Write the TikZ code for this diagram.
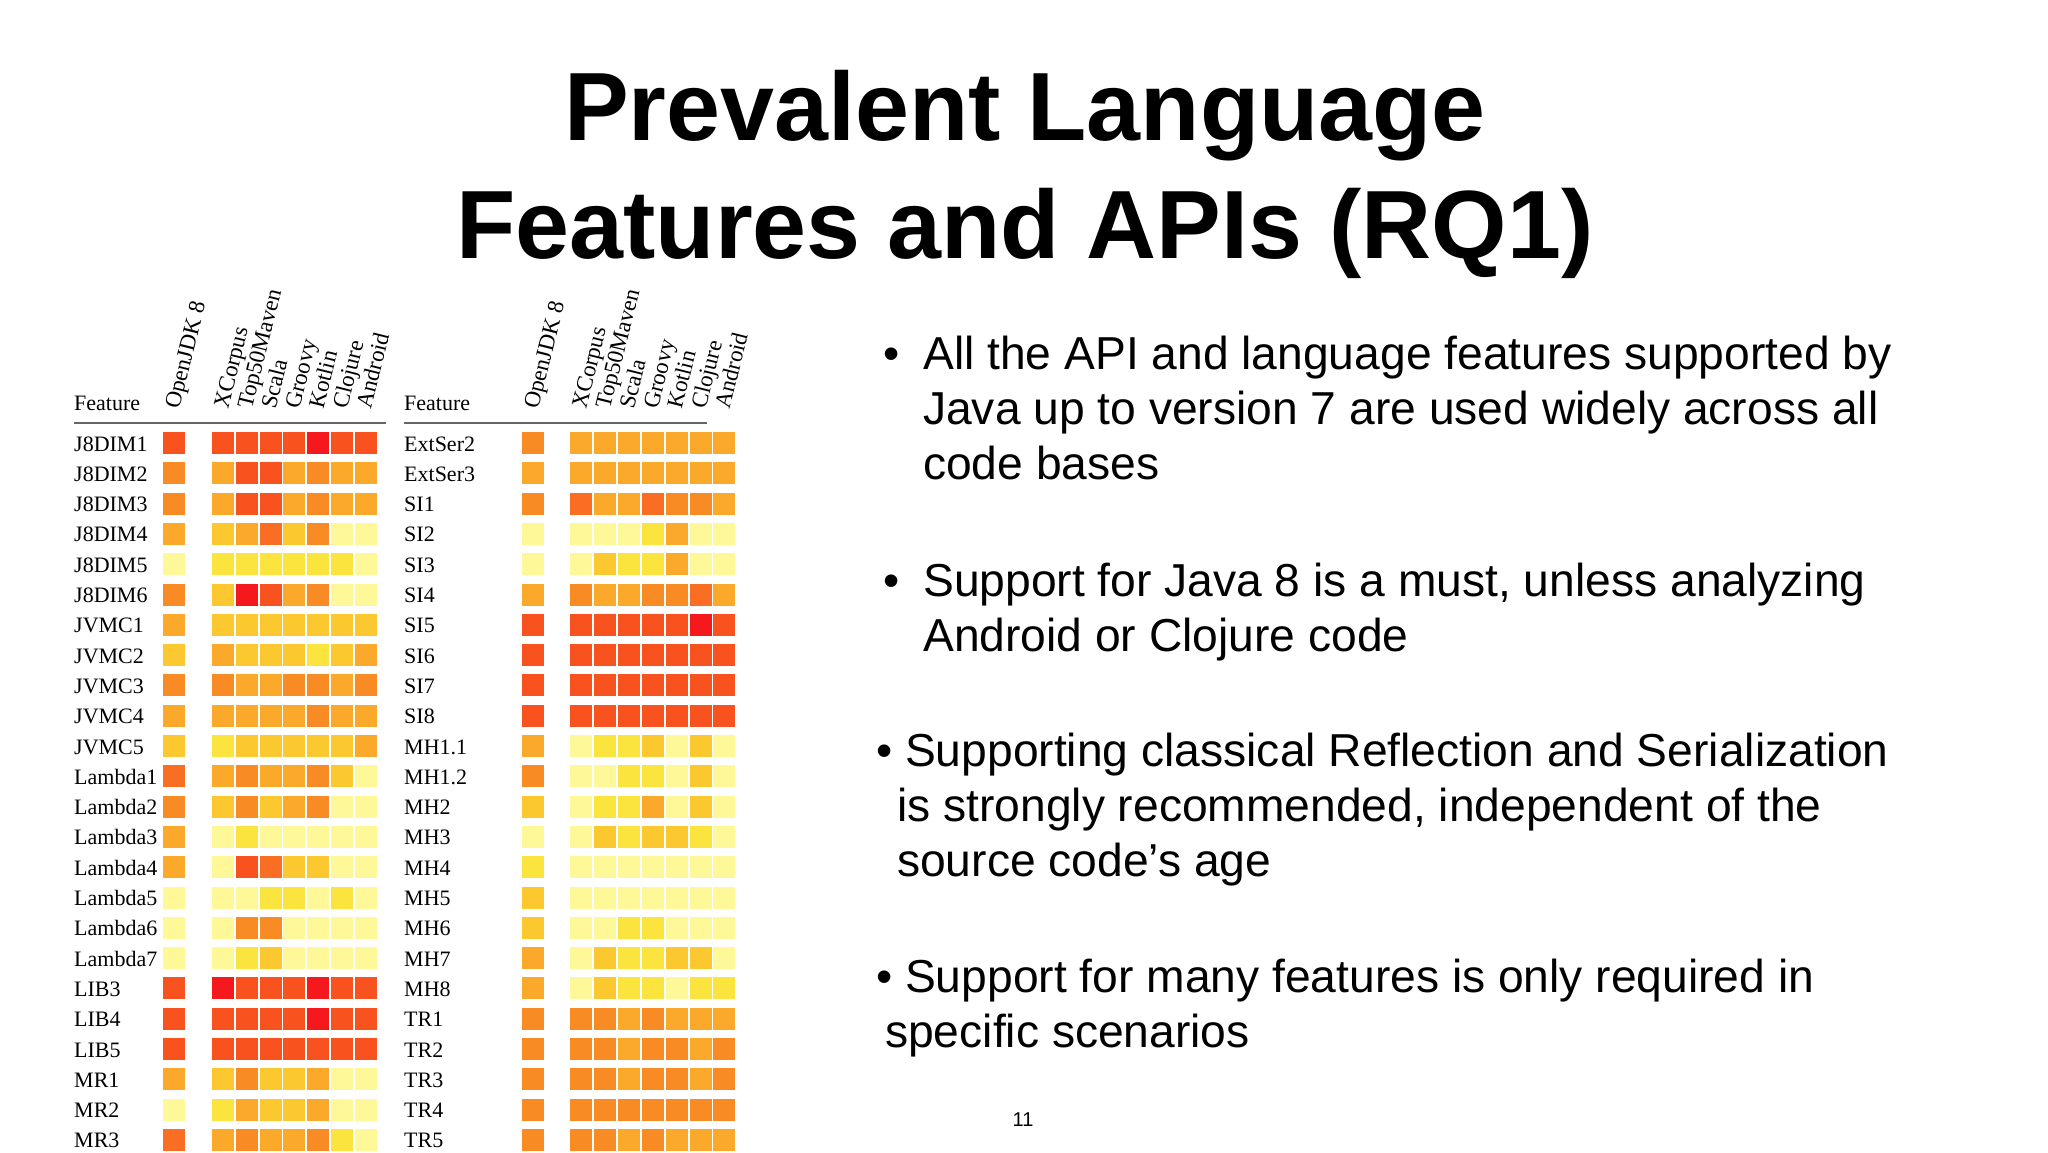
\documentclass[tikz,border=0pt]{standalone}
\usepackage{fontspec}
\setmainfont{Liberation Serif}
\newfontfamily\titlefont{Liberation Sans}
\definecolor{cR}{HTML}{F5181C}
\definecolor{cD}{HTML}{F8521F}
\definecolor{cM}{HTML}{F96E22}
\definecolor{cO}{HTML}{F98B25}
\definecolor{cA}{HTML}{FBA92A}
\definecolor{cG}{HTML}{FCC830}
\definecolor{cY}{HTML}{FCE43E}
\definecolor{cP}{HTML}{FEF898}
\tikzset{
  lab/.style={anchor=base west,inner sep=0pt,font=\fontsize{22}{24}\selectfont},
  hdr/.style={anchor=base west,inner sep=0pt,rotate=76,font=\fontsize{23}{25}\selectfont},
  btxt/.style={anchor=base west,inner sep=0pt,font=\titlefont\fontsize{46.2}{50}\selectfont},
  ttl/.style={anchor=base,inner sep=0pt,font=\titlefont\bfseries\fontsize{97}{110}\selectfont},
  rulel/.style={draw=black!60,line width=2pt}
}
\begin{document}
\begin{tikzpicture}[x=1pt,y=-1pt]
\fill[white] (0,0) rectangle (2048,1152);
\useasboundingbox (0,0) rectangle (2048,1152);
% title
\node[ttl] (t1) at (1025,140) {Prevalent Language};
\node[ttl] (t2) at (1025,258) {Features and APIs (RQ1)};
% tables
\node[lab] (fl) at (74,410) {Feature};
\node[lab] (fr) at (404,410) {Feature};
\coordinate (l1) at (74,423); \coordinate (l2) at (386,423);
\coordinate (r1) at (404,423); \coordinate (r2) at (707,423);
\draw[rulel] (l1) -- (l2);
\draw[rulel] (r1) -- (r2);
\foreach \h [count=\j] in {OpenJDK 8,XCorpus,Top50Maven,Scala,Groovy,Kotlin,Clojure,Android}{
  \pgfmathsetmacro\xl{\j==1 ? 174 : 223+(\j-2)*23.8}
  \pgfmathsetmacro\xr{\j==1 ? 533 : 581+(\j-2)*23.9}
  \node[hdr] (hl\j) at (\xl+5,410) {\h};
  \node[hdr] (hr\j) at (\xr+5,410) {\h};
}
\foreach \n/\row [count=\i] in {
 J8DIM1/{D,D,D,D,D,R,D,D},
 J8DIM2/{O,A,D,D,A,O,A,A},
 J8DIM3/{O,A,D,D,A,O,A,A},
 J8DIM4/{A,G,A,M,G,O,P,P},
 J8DIM5/{P,Y,Y,Y,Y,Y,Y,P},
 J8DIM6/{O,G,R,D,A,O,P,P},
 JVMC1/{A,G,G,G,G,G,G,G},
 JVMC2/{G,A,G,G,G,Y,G,A},
 JVMC3/{O,O,A,A,O,O,A,O},
 JVMC4/{A,A,A,A,A,O,A,A},
 JVMC5/{G,Y,G,G,G,G,G,A},
 Lambda1/{M,A,O,A,A,O,G,P},
 Lambda2/{O,G,O,G,A,O,P,P},
 Lambda3/{A,P,Y,P,P,P,P,P},
 Lambda4/{A,P,D,M,G,G,P,P},
 Lambda5/{P,P,P,Y,Y,P,Y,P},
 Lambda6/{P,P,O,O,P,P,P,P},
 Lambda7/{P,P,Y,G,P,P,P,P},
 LIB3/{D,R,D,D,D,R,D,D},
 LIB4/{D,D,D,D,D,R,D,D},
 LIB5/{D,D,D,D,D,D,D,D},
 MR1/{A,G,O,G,G,A,P,P},
 MR2/{P,Y,A,G,G,A,P,P},
 MR3/{M,A,O,A,A,O,Y,P}}{
  \pgfmathsetmacro\yy{432+(\i-1)*30.3}
  \node[lab] (ll\i) at (74,\yy+19) {\n};
  \foreach \c [count=\j] in \row {
    \pgfmathsetmacro\xx{\j==1 ? 163 : 212+(\j-2)*23.8}
    \fill[c\c] (\xx,\yy) rectangle ++(22,22);
  }
}
\foreach \n/\row [count=\i] in {
 ExtSer2/{O,A,A,A,A,A,A,A},
 ExtSer3/{A,A,A,A,A,A,A,A},
 SI1/{O,M,A,A,M,O,O,A},
 SI2/{P,P,P,P,Y,A,P,P},
 SI3/{P,P,G,Y,Y,A,P,P},
 SI4/{A,O,A,A,O,O,M,A},
 SI5/{D,D,D,D,D,D,R,D},
 SI6/{D,D,D,D,D,D,D,D},
 SI7/{D,D,D,D,D,D,D,D},
 SI8/{D,D,D,D,D,D,D,D},
 MH1.1/{A,P,Y,Y,G,P,G,P},
 MH1.2/{O,P,P,Y,Y,P,G,P},
 MH2/{G,P,Y,Y,A,P,G,P},
 MH3/{P,P,G,Y,G,G,Y,P},
 MH4/{Y,P,P,P,P,P,P,P},
 MH5/{G,P,P,P,P,P,P,P},
 MH6/{G,P,P,Y,Y,P,P,P},
 MH7/{A,P,G,Y,Y,G,G,P},
 MH8/{A,P,G,Y,Y,P,Y,Y},
 TR1/{O,O,O,A,O,A,A,A},
 TR2/{O,O,O,A,O,O,A,O},
 TR3/{O,O,O,A,O,O,A,O},
 TR4/{O,O,O,O,O,O,O,O},
 TR5/{O,O,O,A,O,A,A,A}}{
  \pgfmathsetmacro\yy{432+(\i-1)*30.3}
  \node[lab] (rl\i) at (404,\yy+19) {\n};
  \foreach \c [count=\j] in \row {
    \pgfmathsetmacro\xx{\j==1 ? 522 : 570+(\j-2)*23.9}
    \fill[c\c] (\xx,\yy) rectangle ++(22,22);
  }
}
% bullets
\node[btxt] (b1) at (883,369) {•};
\node[btxt] (b1a) at (923,369) {All the API and language features supported by};
\node[btxt] (b1b) at (923,424) {Java up to version 7 are used widely across all};
\node[btxt] (b1c) at (923,479) {code bases};
\node[btxt] (b2) at (883,596) {•};
\node[btxt] (b2a) at (923,596) {Support for Java 8 is a must, unless analyzing};
\node[btxt] (b2b) at (923,651) {Android or Clojure code};
\node[btxt] (b3) at (876,766) {• Supporting classical Reflection and Serialization};
\node[btxt] (b3b) at (897,821) {is strongly recommended, independent of the};
\node[btxt] (b3c) at (897,876) {source code’s age};
\node[btxt] (b4) at (876,992) {• Support for many features is only required in};
\node[btxt] (b4b) at (885,1047) {specific scenarios};
\node[anchor=base,inner sep=0pt,font=\titlefont\fontsize{20}{22}\selectfont] (pg) at (1023,1126) {11};
\end{tikzpicture}
\end{document}
